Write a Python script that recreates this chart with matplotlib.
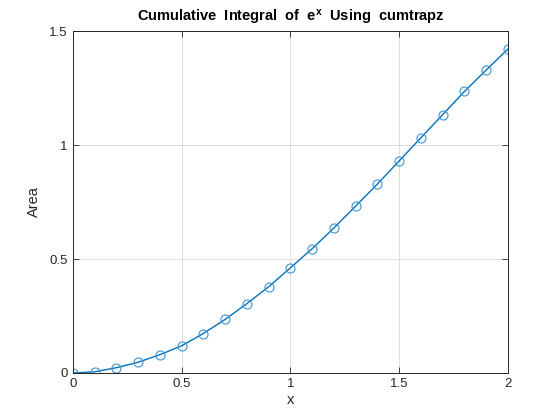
import numpy as np
from matplotlib import pyplot as plt

# sample points and cumulative area
x = [0.0, 0.1, 0.2, 0.3, 0.4, 0.5, 0.6, 0.7, 0.8, 0.9, 1.0,
     1.1, 1.2, 1.3, 1.4, 1.5, 1.6, 1.7, 1.8, 1.9, 2.0]
area = [0.0, 0.005, 0.023, 0.047, 0.080, 0.119, 0.173, 0.235, 0.304, 0.378, 0.461,
        0.545, 0.636, 0.732, 0.829, 0.930, 1.032, 1.133, 1.235, 1.329, 1.421]
xticks = [0, 0.5, 1, 1.5, 2]
xticklabels = ["0", "0.5", "1", "1.5", "2"]
yticks = [0, 0.5, 1, 1.5]
yticklabels = ["0", "0.5", "1", "1.5"]

plt.rcParams["font.family"] = ["Liberation Sans", "DejaVu Sans"]
plt.rcParams["mathtext.default"] = "regular"

fig = plt.figure(figsize=(5.6, 4.2), dpi=100)
ax = fig.add_axes([0.13, 0.112, 0.777, 0.814])

ax.plot(x, area, color="#0072BD", lw=1.0)
ax.plot(x, area, linestyle="none", marker="o", ms=6.5, mfc="none",
        mec="#3f95d2", mew=0.8)

ax.set_xlim(0, 2)
ax.set_ylim(0, 1.5)
ax.set_xticks(xticks)
ax.set_xticklabels(xticklabels)
ax.set_yticks(yticks)
ax.set_yticklabels(yticklabels)
ax.tick_params(direction="in", length=4, width=0.6, colors="#262626",
               labelsize=9.5, top=True, right=True, labeltop=False, labelright=False)
for s in ax.spines.values():
    s.set_color("#262626")
    s.set_linewidth(0.7)
ax.grid(True, color="#dcdcdc", lw=0.7)
ax.set_axisbelow(True)

ax.set_xlabel("x", fontsize=10.5, color="#262626", labelpad=2)
ax.set_ylabel("Area", fontsize=10.5, color="#262626", labelpad=6)
ax.set_title("Cumulative  Integral  of  e$^{x}$  Using  cumtrapz",
             fontsize=10.5, fontweight="bold", pad=7)

fig.savefig("out.png", dpi=100)
